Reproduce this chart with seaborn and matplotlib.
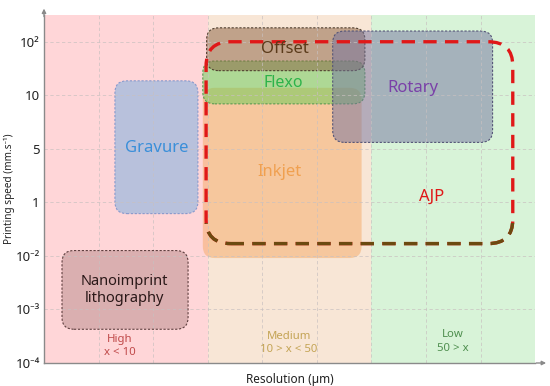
import matplotlib
matplotlib.use("Agg")
import matplotlib.pyplot as plt
import seaborn as sns
from matplotlib.patches import FancyBboxPatch, Rectangle

# ---- data ----
speed_ticks = ["10⁻⁴", "10⁻³", "10⁻²", "1", "5", "10", "10²"]
zones = ["High\nx < 10", "Medium\n10 > x < 50", "Low\n50 > x"]
zone_start = [0, 3, 6]
zone_end = [3, 6, 9]

methods = ["Inkjet", "Flexo", "Offset", "Rotary", "Gravure", "Nanoimprint\nlithography"]
res_lo = [2.91, 2.91, 2.98, 5.29, 1.30, 0.33]
res_hi = [5.82, 5.88, 5.88, 8.22, 2.82, 2.64]
spd_lo = [1.96, 4.84, 5.46, 4.12, 2.79, 0.63]
spd_hi = [5.14, 5.64, 6.26, 6.20, 5.27, 2.10]
label_x = [4.32, 4.38, 4.41, 6.76, 2.07, 1.48]
label_y = [3.56, 5.23, 5.87, 5.14, 4.02, 1.36]

ajp_res = [2.97, 8.59]
ajp_spd = [2.23, 6.00]
ajp_label = (7.1, 3.11)

# ---- styles ----
zone_fill = ["#ffd6d8", "#f8e6d6", "#d8f3d8"]
zone_text = ["#c04a4a", "#c4a455", "#4f8f4f"]
face = ["#f5aa65", "#66cc55", "#8a6040", "#7373a0", "#7fb0e0", "#a07070"]
alpha = [0.5, 0.5, 0.5, 0.5, 0.55, 0.38]
edge = ["none", "#5a9a50", "#504030", "#555577", "#8899cc", "#604040"]
tcol = ["#f0a050", "#2db34a", "#5a3a1a", "#7a40a8", "#3a8fd9", "#2a1818"]
tsize = [12, 11.5, 12, 12, 12, 10.5]

sns.set_theme(style="white")
plt.rcParams["font.family"] = ["Noto Sans", "DejaVu Sans"]

fig = plt.figure(figsize=(5.5, 3.86), dpi=100)
ax = fig.add_axes([0.08, 0.0596, 0.893, 0.9016])
ax.set_xlim(0, 9)
ax.set_ylim(0, 6.5)

for z0, z1, fc in zip(zone_start, zone_end, zone_fill):
    ax.add_patch(Rectangle((z0, 0), z1 - z0, 6.5, facecolor=fc, edgecolor="none", zorder=0))

ax.set_xticks(range(1, 9))
ax.set_xticklabels([])
ax.set_yticks(range(len(speed_ticks)))
ax.set_yticklabels(speed_ticks, fontsize=9.5, color="#222222")
ax.grid(True, color="#c8c0c0", linestyle=(0, (4, 3)), linewidth=0.6, alpha=0.8)
ax.set_axisbelow(False)
for gl in ax.get_xgridlines() + ax.get_ygridlines():
    gl.set_zorder(0.5)
ax.tick_params(axis="both", length=0, pad=3)

for i, m in enumerate(methods):
    p = FancyBboxPatch((res_lo[i], spd_lo[i]), res_hi[i] - res_lo[i], spd_hi[i] - spd_lo[i],
                       boxstyle="round,pad=0,rounding_size=0.22",
                       facecolor=face[i], alpha=alpha[i], edgecolor="none", zorder=2 + i * 0.1)
    ax.add_patch(p)
    if edge[i] != "none":
        e = FancyBboxPatch((res_lo[i], spd_lo[i]), res_hi[i] - res_lo[i], spd_hi[i] - spd_lo[i],
                           boxstyle="round,pad=0,rounding_size=0.22",
                           facecolor="none", edgecolor=edge[i], linewidth=0.8,
                           linestyle=(0, (2, 1.5)), zorder=2.05 + i * 0.1)
        ax.add_patch(e)
    ax.text(label_x[i], label_y[i], m, color=tcol[i], fontsize=tsize[i],
            ha="center", va="center", zorder=5, linespacing=1.2)

# AJP dashed envelope
ajp = FancyBboxPatch((ajp_res[0], ajp_spd[0]), ajp_res[1] - ajp_res[0], ajp_spd[1] - ajp_spd[0],
                     boxstyle="round,pad=0,rounding_size=0.45", facecolor="none",
                     edgecolor="#e01818", linewidth=2.4, linestyle=(0, (4, 2.5)), zorder=4)
ax.add_patch(ajp)
ajp2 = FancyBboxPatch((ajp_res[0], ajp_spd[0]), ajp_res[1] - ajp_res[0], ajp_spd[1] - ajp_spd[0],
                      boxstyle="round,pad=0,rounding_size=0.45", facecolor="none",
                      edgecolor="#6b4a10", linewidth=2.4, linestyle=(0, (4, 2.5)), zorder=4.1)
ax.add_patch(ajp2)
clip = Rectangle((0, 0), 9, 2.62, transform=ax.transData)
ajp2.set_clip_path(clip)
ax.text(ajp_label[0], ajp_label[1], "AJP", color="#e01818", fontsize=12,
        ha="center", va="center", zorder=5)

zone_label_x = [1.39, 4.49, 7.49]
zone_label_y = [0.32, 0.37, 0.40]
for zl, zx, zy, zc in zip(zones, zone_label_x, zone_label_y, zone_text):
    ax.text(zx, zy, zl, color=zc, fontsize=8.2, ha="center", va="center", zorder=5, linespacing=1.3)

for s in ["top", "right"]:
    ax.spines[s].set_visible(False)
for s in ["left", "bottom"]:
    ax.spines[s].set_color("#8a8a8a")
    ax.spines[s].set_linewidth(1.0)
    ax.spines[s].set_zorder(6)

ax.annotate("", xy=(0.08, 0.985), xytext=(0.08, 0.95), xycoords="figure fraction",
            arrowprops=dict(arrowstyle="-|>", color="#8a8a8a", lw=1.0, mutation_scale=6))
ax.annotate("", xy=(0.998, 0.0596), xytext=(0.97, 0.0596), xycoords="figure fraction",
            arrowprops=dict(arrowstyle="-|>", color="#8a8a8a", lw=1.0, mutation_scale=6))

ax.set_ylabel("Printing speed (mm.s⁻¹)", fontsize=7.2, color="#222222")
ax.yaxis.set_label_coords(-0.06, 0.5)
ax.set_xlabel("Resolution (µm)", fontsize=8.5, color="#222222", labelpad=4)

fig.savefig("out.png", dpi=100)
